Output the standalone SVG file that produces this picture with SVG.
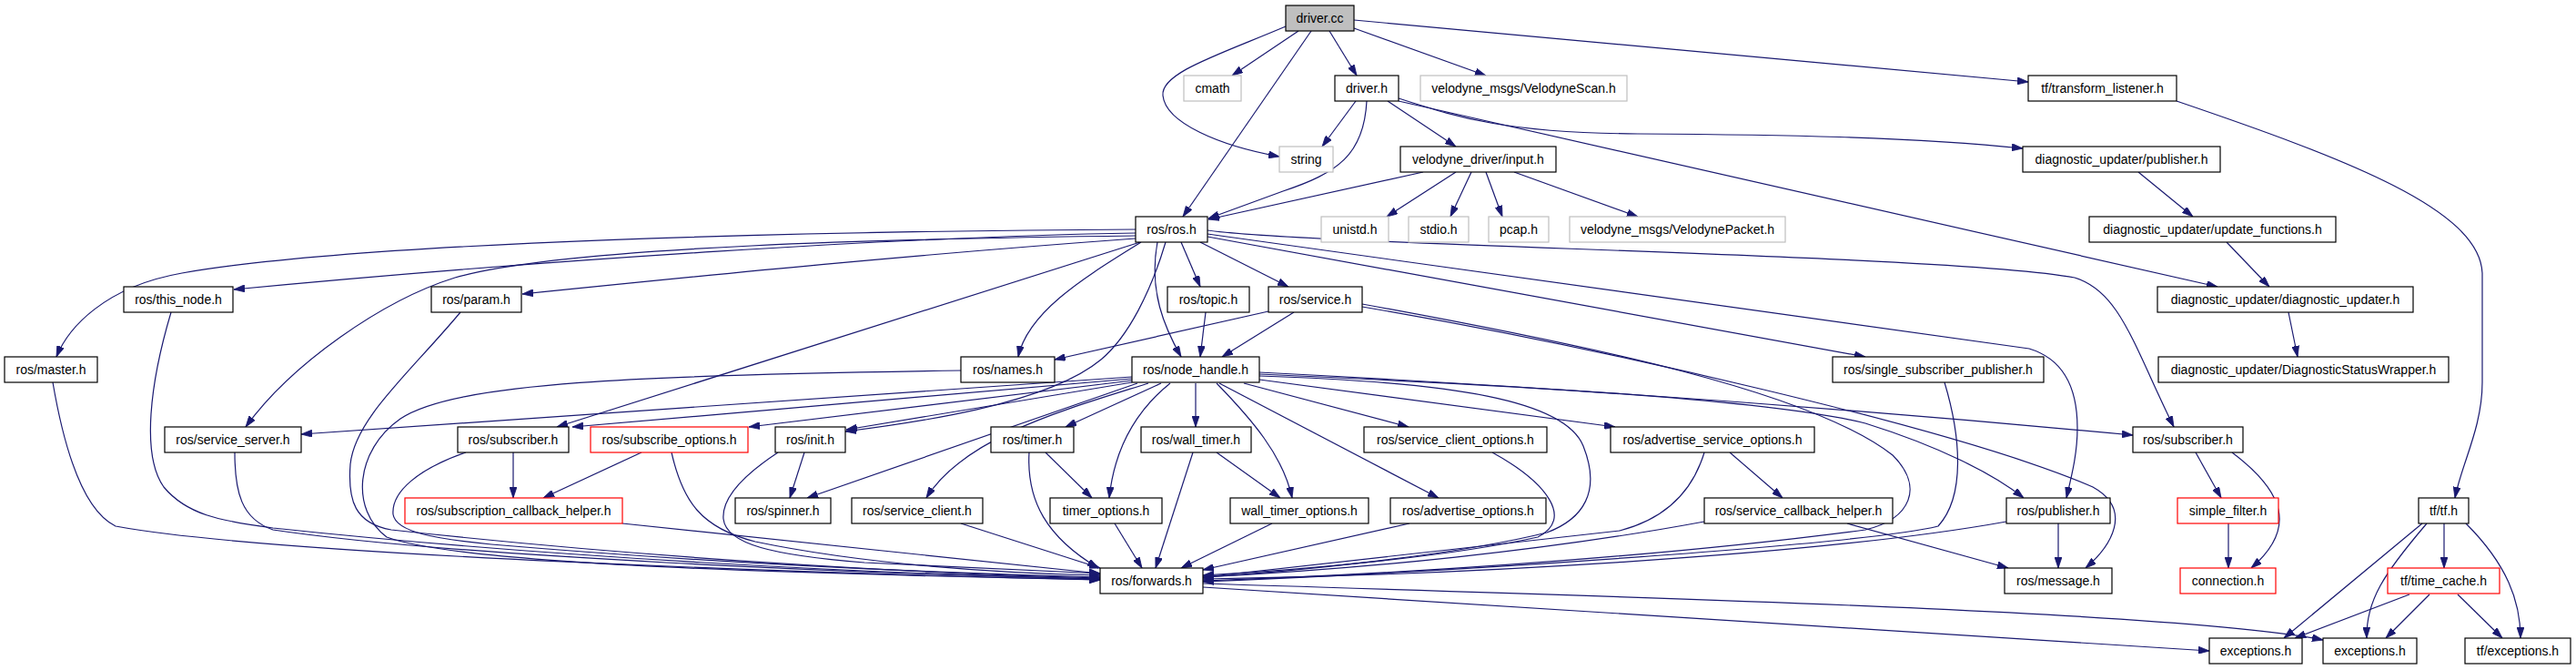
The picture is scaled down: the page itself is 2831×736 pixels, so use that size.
<svg xmlns="http://www.w3.org/2000/svg" width="2831" height="736" viewBox="0 0 2831 736">
<defs>
<marker id="ah" viewBox="0 0 12 8" refX="12" refY="4" markerWidth="12" markerHeight="8" markerUnits="userSpaceOnUse" orient="auto">
<path d="M0,0 L12,4 L0,8 z" fill="#191970" stroke="#191970" stroke-width="0.8"/>
</marker>
<style>
rect{fill:#ffffff;stroke:#000000;stroke-width:1.2}
.g rect{stroke:#bfbfbf}
.r rect{stroke:#ff0000}
.root rect{fill:#bfbfbf}
text{font-family:"Liberation Sans",Arial,sans-serif;font-size:14px;text-anchor:middle;fill:#000000}
#edges path{fill:none;stroke:#191970;stroke-width:1.2;marker-end:url(#ah)}
</style>
</defs>
<rect x="0" y="0" width="2831" height="736" style="fill:#ffffff;stroke:none"/>
<g id="edges">
<path d="M1413,29 C1340,60 1275,80 1278,105 C1281,135 1340,160 1406,172"/>
<path d="M1427,34 L1354,83"/>
<path d="M1441,34 L1300,238"/>
<path d="M1461,34 L1491,83"/>
<path d="M1488,31 L1633,83"/>
<path d="M1488,22 L2229,90"/>
<path d="M1490,111 L1453,161"/>
<path d="M1502,111 C1499,170 1470,190 1410,210 L1328,240"/>
<path d="M1525,111 L1600,161"/>
<path d="M1537,108 C1600,128 1650,146 1800,147 C1950,148 2100,150 2223,163"/>
<path d="M1537,111 L2437,315"/>
<path d="M1564,189 L1328,241"/>
<path d="M1600,189 L1524,238"/>
<path d="M1617,189 L1594,238"/>
<path d="M1633,189 L1651,238"/>
<path d="M1664,189 L1800,238"/>
<path d="M2350,189 L2410,238"/>
<path d="M2447,266 L2494,315"/>
<path d="M2515,343 L2525,392"/>
<path d="M2392,111 C2580,175 2725,230 2728,300 L2728,420 C2728,470 2705,510 2698,547"/>
<path d="M2662,575 L2510,701"/>
<path d="M2667,575 C2620,630 2600,660 2601,701"/>
<path d="M2686,575 L2686,624"/>
<path d="M2710,575 C2755,620 2770,660 2770,701"/>
<path d="M2648,653 L2522,701"/>
<path d="M2670,653 L2622,701"/>
<path d="M2701,653 L2750,701"/>
<path d="M1322,641 C1800,656 2400,672 2553,703"/>
<path d="M1322,645 L2428,715"/>
<path d="M2413,497 L2441,547"/>
<path d="M2453,497 C2510,540 2525,580 2474,624"/>
<path d="M2449,575 L2449,624"/>
<path d="M2262,575 L2262,624"/>
<path d="M2205,573 C2000,610 1600,632 1322,636"/>
<path d="M2030,575 L2207,624"/>
<path d="M1873,573 C1700,605 1500,625 1322,634"/>
<path d="M1901,497 L1959,547"/>
<path d="M1873,497 C1860,540 1830,570 1780,583 L1322,634"/>
<path d="M1248,252 C900,254 400,265 200,300 C115,315 75,360 62,392"/>
<path d="M1248,256 C1000,260 600,285 257,318"/>
<path d="M1248,259 C1000,262 620,270 500,305 C420,330 320,400 270,469"/>
<path d="M1248,262 C1000,280 800,300 574,323"/>
<path d="M1253,266 L612,469"/>
<path d="M1254,266 C1200,300 1130,340 1119,392"/>
<path d="M1281,266 C1265,320 1240,370 1210,395 C1150,445 1000,465 929,474"/>
<path d="M1272,266 C1262,320 1280,360 1298,392"/>
<path d="M1298,266 L1319,315"/>
<path d="M1319,266 L1416,315"/>
<path d="M1327,260 L2050,392"/>
<path d="M1327,257 L2230,383 C2270,395 2283,430 2283,470 C2283,500 2276,525 2271,547"/>
<path d="M1327,253 C1450,270 2150,280 2280,305 C2330,320 2345,380 2389,469"/>
<path d="M1325,343 L1319,392"/>
<path d="M1422,343 L1343,392"/>
<path d="M1394,342 L1159,395"/>
<path d="M1497,334 C1750,380 1990,430 2080,500 C2115,535 2100,570 2050,582 C1800,615 1500,632 1322,638"/>
<path d="M1497,337 C1750,380 2150,470 2300,535 C2345,560 2320,600 2292,624"/>
<path d="M2137,420 C2155,480 2160,545 2130,578 C2050,598 1600,628 1322,639"/>
<path d="M1244,416 L629,469"/>
<path d="M1244,414 L331,477"/>
<path d="M1244,418 L823,469"/>
<path d="M1244,420 L930,472"/>
<path d="M1250,421 L887,547"/>
<path d="M1262,421 C1170,450 1060,480 1018,547"/>
<path d="M1276,421 L1171,469"/>
<path d="M1286,421 C1250,450 1225,490 1219,547"/>
<path d="M1314,421 L1314,469"/>
<path d="M1337,421 C1375,460 1410,500 1420,547"/>
<path d="M1340,421 L1581,547"/>
<path d="M1367,421 L1548,469"/>
<path d="M1384,417 L1775,469"/>
<path d="M1384,411 C1700,425 1950,440 2050,465 C2130,490 2190,520 2224,547"/>
<path d="M1384,409 C1800,430 2100,455 2344,478"/>
<path d="M1384,413 C1600,420 1720,440 1740,490 C1760,540 1740,570 1700,585 C1600,610 1420,628 1322,634"/>
<path d="M1056,407 C700,412 500,420 440,460 C390,495 385,560 425,590 C520,625 1000,632 1209,637"/>
<path d="M58,420 C70,490 90,560 127,578 C300,610 900,630 1209,637"/>
<path d="M188,343 C165,420 155,500 180,535 C205,565 240,572 300,580 C600,612 950,630 1209,636"/>
<path d="M258,497 C258,540 265,570 300,582 C500,612 950,630 1209,636"/>
<path d="M506,343 C450,410 390,460 385,510 C382,550 390,575 430,582 C700,612 1000,630 1209,635"/>
<path d="M512,497 C460,515 430,540 432,565 C435,585 480,592 540,598 C800,620 1050,630 1209,634"/>
<path d="M564,497 L564,547"/>
<path d="M705,497 L597,547"/>
<path d="M738,497 C750,550 770,580 830,595 C950,620 1100,630 1209,632"/>
<path d="M855,497 C820,520 793,545 795,570 C798,598 850,610 950,618 L1209,630"/>
<path d="M884,497 L868,547"/>
<path d="M684,575 L1209,630"/>
<path d="M1056,575 L1209,624"/>
<path d="M1149,497 L1200,547"/>
<path d="M1131,497 C1128,550 1150,590 1207,624"/>
<path d="M1225,575 L1255,624"/>
<path d="M1337,497 L1407,547"/>
<path d="M1311,497 L1270,624"/>
<path d="M1398,575 L1298,624"/>
<path d="M1549,575 L1322,626"/>
<path d="M1640,497 C1700,530 1730,570 1690,590 C1600,610 1450,625 1322,632"/>
</g>
<g id="n_driver_cc" class="root"><rect x="1413" y="6" width="75" height="28"/><text x="1450.5" y="25">driver.cc</text></g>
<g id="n_cmath" class="g"><rect x="1301" y="83" width="63" height="28"/><text x="1332.5" y="102">cmath</text></g>
<g id="n_driver_h"><rect x="1467" y="83" width="70" height="28"/><text x="1502" y="102">driver.h</text></g>
<g id="n_velodynescan" class="g"><rect x="1561" y="83" width="227" height="28"/><text x="1674.5" y="102">velodyne_msgs/VelodyneScan.h</text></g>
<g id="n_transform_listener"><rect x="2229" y="83" width="163" height="28"/><text x="2310.5" y="102">tf/transform_listener.h</text></g>
<g id="n_string" class="g"><rect x="1406" y="161" width="59" height="28"/><text x="1435.5" y="180">string</text></g>
<g id="n_input"><rect x="1539" y="161" width="171" height="28"/><text x="1624.5" y="180">velodyne_driver/input.h</text></g>
<g id="n_diag_publisher"><rect x="2223" y="161" width="217" height="28"/><text x="2331.5" y="180">diagnostic_updater/publisher.h</text></g>
<g id="n_ros"><rect x="1248" y="238" width="79" height="28"/><text x="1287.5" y="257">ros/ros.h</text></g>
<g id="n_unistd" class="g"><rect x="1452" y="238" width="74" height="28"/><text x="1489" y="257">unistd.h</text></g>
<g id="n_stdio" class="g"><rect x="1548" y="238" width="66" height="28"/><text x="1581" y="257">stdio.h</text></g>
<g id="n_pcap" class="g"><rect x="1636" y="238" width="66" height="28"/><text x="1669" y="257">pcap.h</text></g>
<g id="n_velodynepacket" class="g"><rect x="1725" y="238" width="237" height="28"/><text x="1843.5" y="257">velodyne_msgs/VelodynePacket.h</text></g>
<g id="n_update_functions"><rect x="2296" y="238" width="271" height="28"/><text x="2431.5" y="257">diagnostic_updater/update_functions.h</text></g>
<g id="n_this_node"><rect x="136" y="315" width="120" height="28"/><text x="196" y="334">ros/this_node.h</text></g>
<g id="n_param"><rect x="474" y="315" width="99" height="28"/><text x="523.5" y="334">ros/param.h</text></g>
<g id="n_topic"><rect x="1283" y="315" width="90" height="28"/><text x="1328" y="334">ros/topic.h</text></g>
<g id="n_service"><rect x="1394" y="315" width="103" height="28"/><text x="1445.5" y="334">ros/service.h</text></g>
<g id="n_diagnostic_updater"><rect x="2371" y="315" width="281" height="28"/><text x="2511.5" y="334">diagnostic_updater/diagnostic_updater.h</text></g>
<g id="n_master"><rect x="5" y="392" width="102" height="28"/><text x="56" y="411">ros/master.h</text></g>
<g id="n_names"><rect x="1056" y="392" width="103" height="28"/><text x="1107.5" y="411">ros/names.h</text></g>
<g id="n_node_handle"><rect x="1244" y="392" width="140" height="28"/><text x="1314" y="411">ros/node_handle.h</text></g>
<g id="n_single_sub_pub"><rect x="2014" y="392" width="232" height="28"/><text x="2130" y="411">ros/single_subscriber_publisher.h</text></g>
<g id="n_dsw"><rect x="2372" y="392" width="319" height="28"/><text x="2531.5" y="411">diagnostic_updater/DiagnosticStatusWrapper.h</text></g>
<g id="n_service_server"><rect x="181" y="469" width="150" height="28"/><text x="256" y="488">ros/service_server.h</text></g>
<g id="n_subscriber1"><rect x="503" y="469" width="122" height="28"/><text x="564" y="488">ros/subscriber.h</text></g>
<g id="n_subscribe_options" class="r"><rect x="649" y="469" width="173" height="28"/><text x="735.5" y="488">ros/subscribe_options.h</text></g>
<g id="n_init"><rect x="852" y="469" width="77" height="28"/><text x="890.5" y="488">ros/init.h</text></g>
<g id="n_timer"><rect x="1089" y="469" width="91" height="28"/><text x="1134.5" y="488">ros/timer.h</text></g>
<g id="n_wall_timer"><rect x="1254" y="469" width="121" height="28"/><text x="1314.5" y="488">ros/wall_timer.h</text></g>
<g id="n_service_client_options"><rect x="1499" y="469" width="201" height="28"/><text x="1599.5" y="488">ros/service_client_options.h</text></g>
<g id="n_advertise_service_options"><rect x="1770" y="469" width="224" height="28"/><text x="1882" y="488">ros/advertise_service_options.h</text></g>
<g id="n_subscriber2"><rect x="2344" y="469" width="121" height="28"/><text x="2404.5" y="488">ros/subscriber.h</text></g>
<g id="n_sub_callback_helper" class="r"><rect x="445" y="547" width="239" height="28"/><text x="564.5" y="566">ros/subscription_callback_helper.h</text></g>
<g id="n_spinner"><rect x="808" y="547" width="105" height="28"/><text x="860.5" y="566">ros/spinner.h</text></g>
<g id="n_service_client"><rect x="936" y="547" width="144" height="28"/><text x="1008" y="566">ros/service_client.h</text></g>
<g id="n_timer_options"><rect x="1154" y="547" width="123" height="28"/><text x="1215.5" y="566">timer_options.h</text></g>
<g id="n_wall_timer_options"><rect x="1352" y="547" width="152" height="28"/><text x="1428" y="566">wall_timer_options.h</text></g>
<g id="n_advertise_options"><rect x="1528" y="547" width="171" height="28"/><text x="1613.5" y="566">ros/advertise_options.h</text></g>
<g id="n_service_callback_helper"><rect x="1873" y="547" width="207" height="28"/><text x="1976.5" y="566">ros/service_callback_helper.h</text></g>
<g id="n_publisher"><rect x="2205" y="547" width="114" height="28"/><text x="2262" y="566">ros/publisher.h</text></g>
<g id="n_simple_filter" class="r"><rect x="2393" y="547" width="111" height="28"/><text x="2448.5" y="566">simple_filter.h</text></g>
<g id="n_tf"><rect x="2658" y="547" width="55" height="28"/><text x="2685.5" y="566">tf/tf.h</text></g>
<g id="n_forwards"><rect x="1209" y="624" width="113" height="28"/><text x="1265.5" y="643">ros/forwards.h</text></g>
<g id="n_message"><rect x="2203" y="624" width="118" height="28"/><text x="2262" y="643">ros/message.h</text></g>
<g id="n_connection" class="r"><rect x="2396" y="624" width="105" height="28"/><text x="2448.5" y="643">connection.h</text></g>
<g id="n_time_cache" class="r"><rect x="2624" y="624" width="123" height="28"/><text x="2685.5" y="643">tf/time_cache.h</text></g>
<g id="n_exceptions1"><rect x="2428" y="701" width="102" height="28"/><text x="2479" y="720">exceptions.h</text></g>
<g id="n_exceptions2"><rect x="2553" y="701" width="103" height="28"/><text x="2604.5" y="720">exceptions.h</text></g>
<g id="n_tf_exceptions"><rect x="2709" y="701" width="116" height="28"/><text x="2767" y="720">tf/exceptions.h</text></g>
</svg>
